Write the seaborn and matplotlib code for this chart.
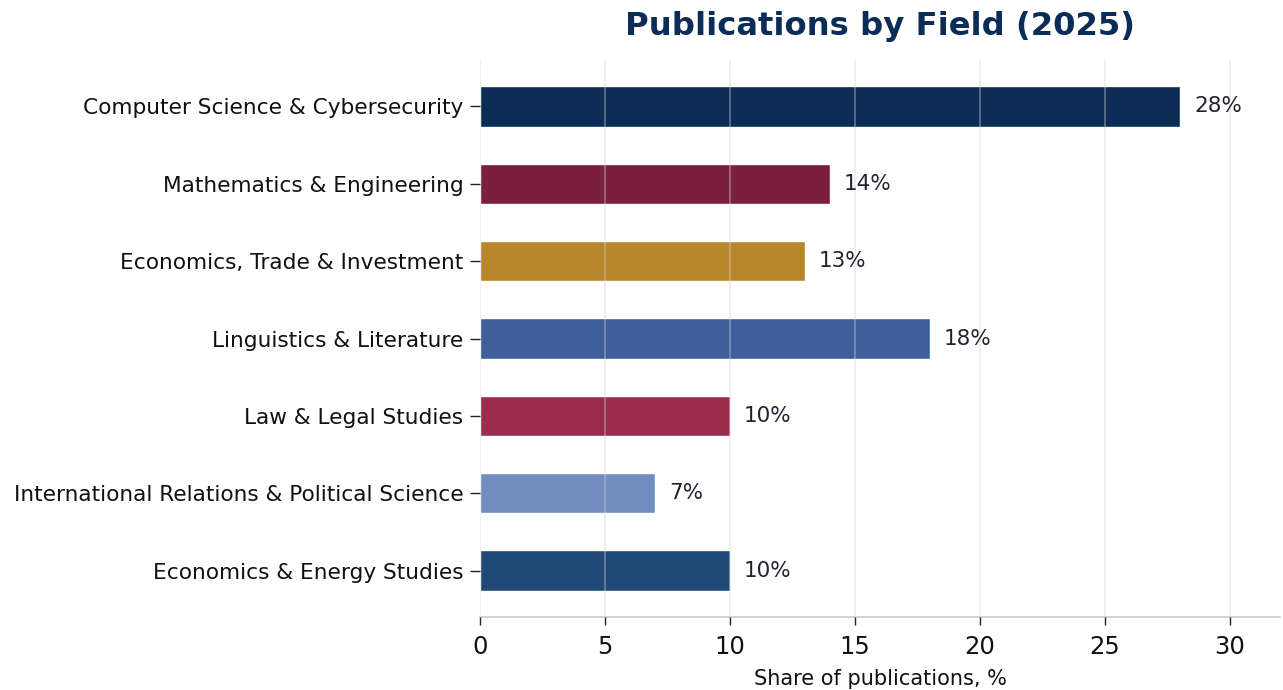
import matplotlib
matplotlib.use("Agg")
import matplotlib.pyplot as plt
import seaborn as sns
import pandas as pd

categories = [
    "Computer Science & Cybersecurity",
    "Mathematics & Engineering",
    "Economics, Trade & Investment",
    "Linguistics & Literature",
    "Law & Legal Studies",
    "International Relations & Political Science",
    "Economics & Energy Studies",
]
shares = [28, 14, 13, 18, 10, 7, 10]
colors = ["#0b2c57", "#7a1f3d", "#b8862b", "#3e5f9a", "#9a2d4b", "#728dc0", "#1f4a77"]
x_ticks = [0, 5, 10, 15, 20, 25, 30]

df = pd.DataFrame({"field": categories, "share": shares})

sns.set_theme(style="white")
plt.rcParams["font.family"] = ["DejaVu Sans"]

fig = plt.figure(figsize=(12.83, 6.9), dpi=100)
ax = fig.add_axes([480 / 1283, 1 - 617 / 690, 800 / 1283, 557 / 690])

sns.barplot(data=df, y="field", x="share", hue="field", palette=colors,
            orient="h", width=0.52, saturation=1, legend=False, ax=ax, zorder=1)

for cont in ax.containers:
    ax.bar_label(cont, labels=[f"{int(v)}%" for v in cont.datavalues],
                 padding=10, fontsize=15.5, color="#222233")

ax.set_xlim(0, 32)
ax.set_ylim(6.6, -0.6)
ax.set_xticks(x_ticks)
ax.grid(axis="x", color="#d4d4d4", alpha=0.4, linewidth=1.3, zorder=3)
ax.set_axisbelow(False)
ax.grid(axis="y", visible=False)

for s in ["top", "right", "left"]:
    ax.spines[s].set_visible(False)
ax.spines["bottom"].set_color("#c5ccd6")
ax.spines["bottom"].set_linewidth(1.2)

ax.tick_params(axis="y", length=7, width=1, color="#222222", labelsize=15.6, pad=5, left=True)
ax.tick_params(axis="x", length=6, width=1, color="#222222", labelsize=17.5, pad=7, bottom=True)
for lab in ax.get_yticklabels() + ax.get_xticklabels():
    lab.set_color("#111111")

ax.set_ylabel("")
ax.set_xlabel("Share of publications, %", fontsize=15, color="#111111", labelpad=7)
ax.set_title("Publications by Field (2025)", fontsize=23.2, fontweight="bold",
             color="#0b2c57", pad=18)

fig.savefig("out.png", dpi=100)
